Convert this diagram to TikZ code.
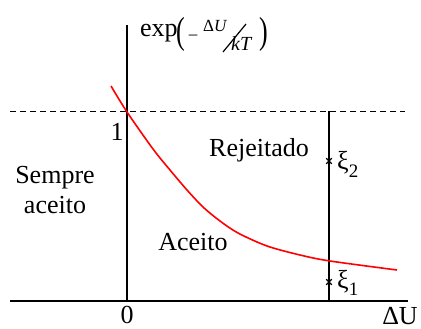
\documentclass[tikz,border=0pt]{standalone}
\usepackage{fontspec}
\setmainfont{Liberation Serif}
\usetikzlibrary{shapes.misc}
\begin{document}
\begin{tikzpicture}[x=1pt,y=-1pt,
  lbl/.style={font=\fontsize{26}{30}\selectfont, inner sep=0pt},
  sm/.style={font=\fontsize{17}{20}\selectfont, inner sep=0pt},
  smb/.style={font=\fontsize{20}{24}\selectfont, inner sep=0pt},
  axis/.style={line width=1.8pt},
  xmark/.style={cross out, draw, line width=1.1pt, minimum size=4.5pt, inner sep=0pt},
  curve/.style={red, line width=1.6pt}]
\useasboundingbox (0,0) rectangle (421,329);
% coordinates
\coordinate (xl) at (10,301);
\coordinate (xr) at (408,301);
\coordinate (o) at (127,301);
\coordinate (yt) at (127,25);
\coordinate (dl) at (10,111);
\coordinate (dr) at (405,111);
\coordinate (vt) at (329,111);
\coordinate (vb) at (329,301);
% dashed level 1
\draw[line width=0.8pt, dash pattern=on 6pt off 4pt] (dl) -- (dr);
% axes
\draw[axis] (xl) -- (xr);
\draw[axis] (o) -- (yt);
% vertical line
\draw[line width=1.4pt] (vt) -- (vb);
% curve
\draw[curve] plot[smooth, tension=0.5] coordinates {(111,86) (127,112) (153,149) (170,170) (187,190) (203,207) (220,221) (238,233) (267,246) (300,255) (330,261) (397,270)};
% markers
\node[xmark] (m2) at (329,161) {};
\node[xmark] (m1) at (329,282) {};
% labels
\node[lbl, anchor=base] (one) at (117,140) {1};
\node[lbl, anchor=base] (zero) at (127,323) {0};
\node[lbl, anchor=base] (du) at (400,324) {ΔU};
\node[lbl, anchor=base] (s1) at (55,183) {Sempre};
\node[lbl, anchor=base] (s2) at (55,213) {aceito};
\node[lbl, anchor=base] (rej) at (259,157) {Rejeitado};
\node[lbl, anchor=base] (ac) at (193,250) {Aceito};
\node[lbl, anchor=base west] (xi2) at (337,170) {ξ\raisebox{-0.27em}{\fontsize{19}{20}\selectfont 2}};
\node[lbl, anchor=base west] (xi1) at (337,288) {ξ\raisebox{-0.27em}{\fontsize{19}{20}\selectfont 1}};
% exp label
\node[lbl, anchor=base west] (exp) at (140,37) {exp};
\node[lbl, anchor=west] (lp) at (176.5,34) {\scalebox{1}[1.45]{(}};
\node[sm] (mi) at (193,37) {–};
\node[sm, anchor=base west] (dun) at (203,32) {Δ\textit{U}};
\node[smb, anchor=base west] (kt) at (231,51) {\textit{kT}};
\draw[line width=1.2pt] (223,52) -- (246,24);
\node[lbl, anchor=west] (rp) at (259,34) {\scalebox{1}[1.45]{)}};
\end{tikzpicture}
\end{document}
